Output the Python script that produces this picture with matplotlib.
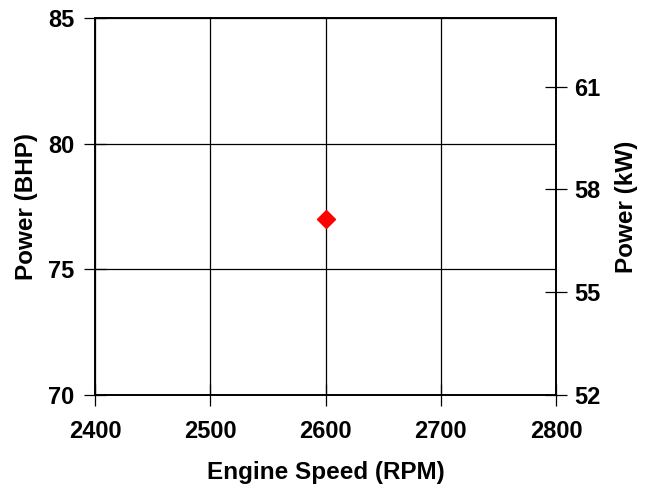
import matplotlib
matplotlib.use("Agg")
import matplotlib.pyplot as plt

# Engine test point
speed_rpm = [2600]
power_bhp = [77]

x_ticks = [2400, 2500, 2600, 2700, 2800]
bhp_ticks = [70, 75, 80, 85]
kw_ticks = [52, 55, 58, 61]

plt.rcParams["font.family"] = ["Liberation Sans", "DejaVu Sans"]
plt.rcParams["font.weight"] = "bold"

fig = plt.figure(figsize=(6.46, 4.87), dpi=100)
ax = fig.add_axes([0.147, 0.189, 0.714, 0.774])

ax.plot(speed_rpm, power_bhp, "D", color="#ff0000", markersize=9, zorder=3)

ax.set_xlim(2400, 2800)
ax.set_ylim(70, 85)
ax.set_xticks(x_ticks)
ax.set_yticks(bhp_ticks)
ax.grid(True, color="black", linewidth=0.9)
ax.set_axisbelow(True)
for s in ax.spines.values():
    s.set_linewidth(1.2)
ax.tick_params(direction="inout", length=16, width=0.9, labelsize=17, pad=7)
ax.tick_params(axis="x", pad=10)
ax.set_xlabel("Engine Speed (RPM)", fontsize=17.5, fontweight="bold", labelpad=13)
ax.set_ylabel("Power (BHP)", fontsize=17.5, fontweight="bold", labelpad=7)

ax2 = ax.twinx()
ax2.set_ylim(52, 63)
ax2.set_yticks(kw_ticks)
ax2.tick_params(direction="inout", length=16, width=0.9, labelsize=17, pad=5)
ax2.set_ylabel("Power (kW)", fontsize=17.5, fontweight="bold", labelpad=10)
for s in ax2.spines.values():
    s.set_linewidth(1.2)

fig.savefig("out.png", dpi=100)
